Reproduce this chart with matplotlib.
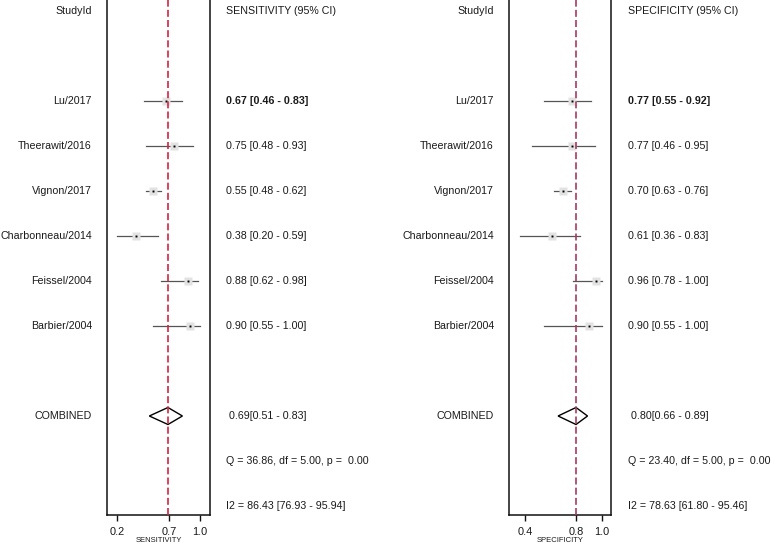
import matplotlib
matplotlib.use("Agg")
import matplotlib.pyplot as plt
from matplotlib.patches import Polygon
from matplotlib.transforms import blended_transform_factory

plt.rcParams['font.family'] = ['Liberation Sans', 'DejaVu Sans']

studies = ["Lu/2017", "Theerawit/2016", "Vignon/2017", "Charbonneau/2014",
           "Feissel/2004", "Barbier/2004"]

sens_est = [0.67, 0.75, 0.55, 0.38, 0.88, 0.90]
sens_lo = [0.46, 0.48, 0.48, 0.20, 0.62, 0.55]
sens_hi = [0.83, 0.93, 0.62, 0.59, 0.98, 1.00]
sens_comb = [0.69, 0.51, 0.83]
sens_q = "Q = 36.86, df = 5.00, p =  0.00"
sens_i2 = "I2 = 86.43 [76.93 - 95.94]"
sens_ticks = [0.2, 0.7, 1.0]
sens_ticklabels = ["0.2", "0.7", "1.0"]

spec_est = [0.77, 0.77, 0.70, 0.61, 0.96, 0.90]
spec_lo = [0.55, 0.46, 0.63, 0.36, 0.78, 0.55]
spec_hi = [0.92, 0.95, 0.76, 0.83, 1.00, 1.00]
spec_comb = [0.80, 0.66, 0.89]
spec_q = "Q = 23.40, df = 5.00, p =  0.00"
spec_i2 = "I2 = 78.63 [61.80 - 95.46]"
spec_ticks = [0.4, 0.8, 1.0]
spec_ticklabels = ["0.4", "0.8", "1.0"]

W, H = 778, 544
fig = plt.figure(figsize=(W / 100, H / 100), dpi=100)

FS = 7.7
TXT = '#1a1a1a'


def panel(ax_left, ax_right, xlim, est, lo, hi, comb, q, i2, ticks, ticklabels,
          label_right, val_left, header, axis_title, title_x, dash_color):
    ax = fig.add_axes([ax_left / W, (H - 515) / H, (ax_right - ax_left) / W, 515 / H])
    ax.set_xlim(*xlim)
    ax.set_ylim(11.2, -0.244)
    ax.spines['top'].set_visible(False)
    for s in ['left', 'right', 'bottom']:
        ax.spines[s].set_linewidth(1.1)
        ax.spines[s].set_color('#111111')
    ax.set_yticks([])
    ax.set_xticks(ticks)
    ax.set_xticklabels(ticklabels, fontsize=7.9, color=TXT)
    ax.tick_params(axis='x', length=4, width=1.0, pad=4.5, color='#111111')

    rows = [2 + i for i in range(len(est))]
    for r, e, l, h in zip(rows, est, lo, hi):
        ax.plot([l, h], [r, r], color='#555555', lw=0.9, zorder=2)
        ax.plot(e, r, marker='s', ms=5.4, mfc='#e2e2e2', mec='none', zorder=3)
        ax.plot(e, r, marker='s', ms=1.4, mfc='black', mec='none', zorder=4)

    c_est, c_lo, c_hi = comb
    hgt = 8.5 / 45
    diamond = Polygon([[c_lo, 9], [c_est, 9 - hgt], [c_hi, 9], [c_est, 9 + hgt]],
                      closed=True, facecolor='white', edgecolor='black', lw=1.0, zorder=3)
    ax.add_patch(diamond)
    ax.axvline(c_est, color=dash_color, lw=1.2, linestyle=(0, (4.2, 1.9)), zorder=5)

    tr = blended_transform_factory(fig.transFigure, ax.transData)
    ax.text(label_right / W, 0, "StudyId", transform=tr, ha='right', va='center',
            fontsize=FS, color=TXT, clip_on=False)
    ax.text(val_left / W, 0, header, transform=tr, ha='left', va='center',
            fontsize=FS, color=TXT, clip_on=False)
    for i, (r, name) in enumerate(zip(rows, studies)):
        ax.text(label_right / W, r, name, transform=tr, ha='right', va='center',
                fontsize=FS, color=TXT, clip_on=False)
        ax.text(val_left / W, r, f"{est[i]:.2f} [{lo[i]:.2f} - {hi[i]:.2f}]",
                transform=tr, ha='left', va='center', fontsize=FS, color=TXT,
                fontweight='bold' if i == 0 else 'normal', clip_on=False)
    ax.text(label_right / W, 9, "COMBINED", transform=tr, ha='right', va='center',
            fontsize=FS, color=TXT, clip_on=False)
    ax.text((val_left + 3) / W, 9, f"{c_est:.2f}[{c_lo:.2f} - {c_hi:.2f}]",
            transform=tr, ha='left', va='center', fontsize=FS, color=TXT, clip_on=False)
    ax.text(val_left / W, 10, q, transform=tr, ha='left', va='center',
            fontsize=FS, color=TXT, clip_on=False)
    ax.text(val_left / W, 11, i2, transform=tr, ha='left', va='center',
            fontsize=FS, color=TXT, clip_on=False)
    fig.text(title_x / W, 1 - 540 / H, axis_title, ha='center', va='center',
             fontsize=5.5, color=TXT)
    return ax


panel(107, 210, (0.1006, 1.0967), sens_est, sens_lo, sens_hi, sens_comb,
      sens_q, sens_i2, sens_ticks, sens_ticklabels, 92, 226,
      "SENSITIVITY (95% CI)", "SENSITIVITY", 159, '#d6223f')
panel(509, 611, (0.2766, 1.0734), spec_est, spec_lo, spec_hi, spec_comb,
      spec_q, spec_i2, spec_ticks, spec_ticklabels, 494, 628,
      "SPECIFICITY (95% CI)", "SPECIFICITY", 560, '#a83a5e')

fig.savefig("out.png", dpi=100, facecolor='white')
